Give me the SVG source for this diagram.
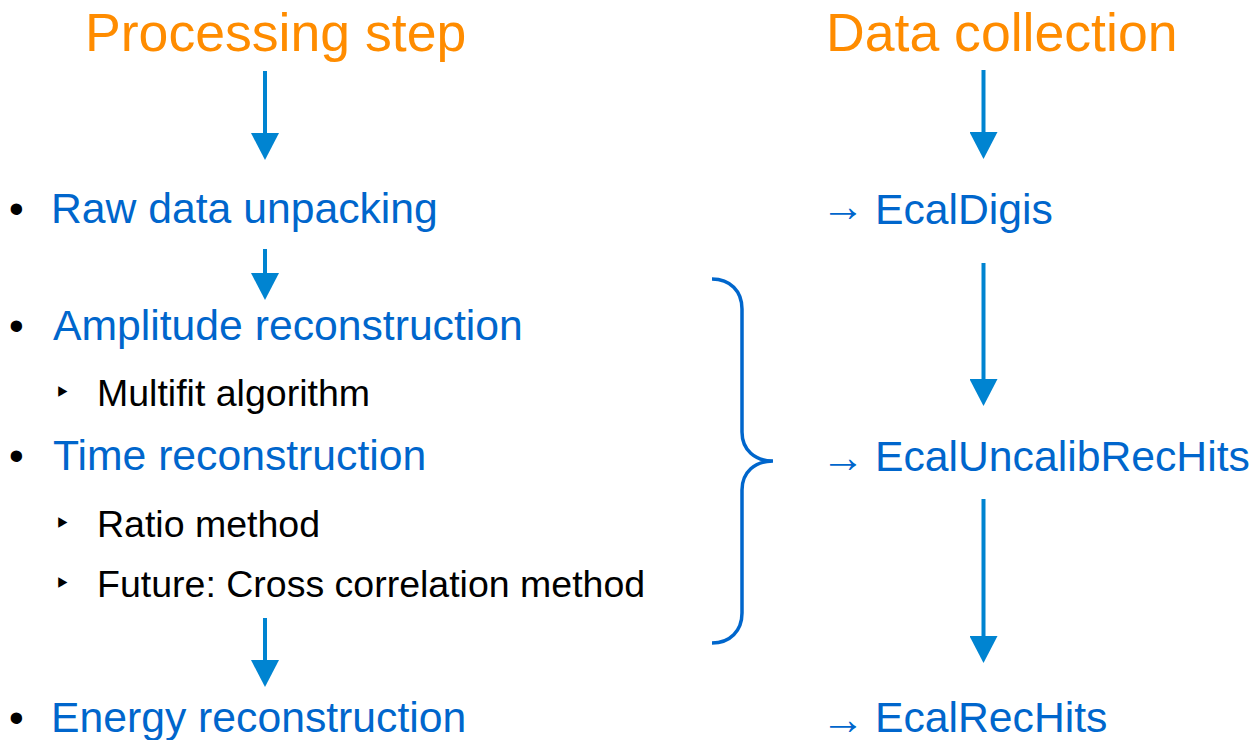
<svg xmlns="http://www.w3.org/2000/svg" width="1252" height="740" viewBox="0 0 1252 740">
<style>
text{font-family:"Liberation Sans",Arial,sans-serif}
.title{font-size:53.6px;fill:#FF8C00}
.item{font-size:42.7px;fill:#0066CC}
.sub{font-size:37.5px;fill:#000}
.bul{font-size:42px;fill:#000}
.tri{font-size:28px;fill:#000;font-family:"DejaVu Sans",sans-serif}
.ar{font-size:44px;fill:#0066CC}
.conn{stroke:#0084D1;stroke-width:4;fill:none}
.brace{stroke:#0066CC;stroke-width:3.5;fill:none}
</style>
<defs>
<marker id="head" markerUnits="userSpaceOnUse" markerWidth="28" markerHeight="28" viewBox="0 0 27 28" refX="0" refY="14" orient="auto">
<path d="M0,0 L27,14 L0,28 z" fill="#0084D1"/>
</marker>
</defs>
<g id="title-processing"><text class="title" x="85" y="51">Processing step</text></g>
<g id="title-data"><text class="title" x="826" y="51">Data collection</text></g>
<g id="raw"><text class="bul" x="9" y="223">•</text><text class="item" x="51" y="223">Raw data unpacking</text></g>
<g id="amplitude"><text class="bul" x="9" y="340">•</text><text class="item" x="53" y="340">Amplitude reconstruction</text></g>
<g id="multifit"><text class="tri" x="54" y="402">‣</text><text class="sub" x="97" y="406">Multifit algorithm</text></g>
<g id="time"><text class="bul" x="9" y="470">•</text><text class="item" x="53" y="470">Time reconstruction</text></g>
<g id="ratio"><text class="tri" x="54" y="533">‣</text><text class="sub" x="97" y="537">Ratio method</text></g>
<g id="future"><text class="tri" x="54" y="593">‣</text><text class="sub" x="97" y="597">Future: Cross correlation method</text></g>
<g id="energy"><text class="bul" x="9" y="732">•</text><text class="item" x="51" y="732">Energy reconstruction</text></g>
<g id="ecaldigis"><text class="ar" x="821" y="221">→</text><text class="item" x="875" y="224">EcalDigis</text></g>
<g id="ecaluncalib"><text class="ar" x="821" y="472">→</text><text class="item" x="875" y="471">EcalUncalibRecHits</text></g>
<g id="ecalrechits"><text class="ar" x="821" y="734">→</text><text class="item" x="875" y="732">EcalRecHits</text></g>
<g id="connectors">
<line class="conn" x1="265" y1="71" x2="265" y2="133" marker-end="url(#head)"/>
<line class="conn" x1="265" y1="249" x2="265" y2="273" marker-end="url(#head)"/>
<line class="conn" x1="265" y1="618" x2="265" y2="660" marker-end="url(#head)"/>
<line class="conn" x1="983.5" y1="70" x2="983.5" y2="132" marker-end="url(#head)"/>
<line class="conn" x1="983.5" y1="263" x2="983.5" y2="379" marker-end="url(#head)"/>
<line class="conn" x1="983.5" y1="499" x2="983.5" y2="636" marker-end="url(#head)"/>
<path class="brace" d="M712,279 C730,279 742,291 742,309 L742,432 C742,450 755,461 773,461 C755,461 742,472 742,490 L742,613 C742,631 730,643 712,643"/>
</g>
</svg>
